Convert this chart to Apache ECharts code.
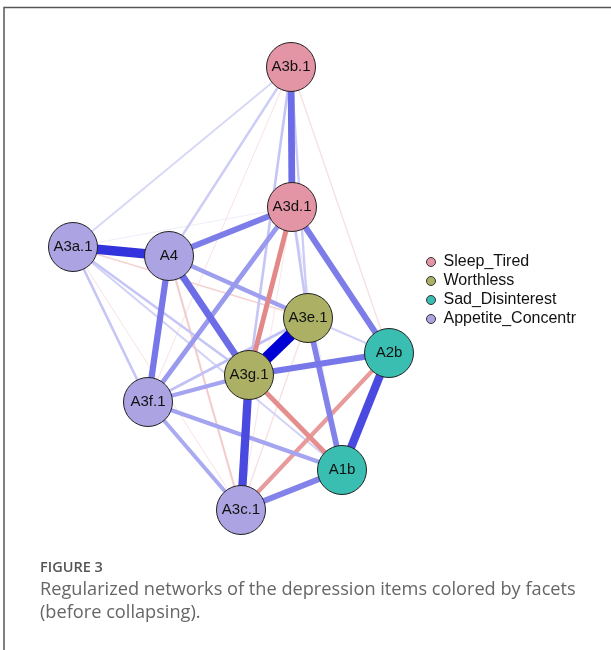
<!DOCTYPE html>
<html><head><meta charset="utf-8">
<script src="https://cdn.jsdelivr.net/npm/echarts@6/dist/echarts.min.js"></script>
<style>html,body{margin:0;padding:0;background:#fff}#c{width:611px;height:650px}</style>
</head><body><div id="c"></div>
<script>
// Facet groups
const groups = ['Sleep_Tired', 'Worthless', 'Sad_Disinterest', 'Appetite_Concentr'];
const groupColors = ['#E495A5', '#ABB065', '#39BEB1', '#ACA4E2'];

// Nodes (layout coordinates) and facet membership
const nodeNames = ['A3b.1', 'A3d.1', 'A3a.1', 'A4', 'A3e.1', 'A2b', 'A3g.1', 'A3f.1', 'A1b', 'A3c.1'];
const nodeX = [291, 292, 73, 169, 308, 389, 249, 148, 342, 241];
const nodeY = [67, 207, 247, 256, 318, 353, 375, 402, 470, 510];
const nodeGroup = [0, 0, 3, 3, 1, 2, 1, 3, 2, 3];

// Edges: source, target, partial correlation weight
const edgeFrom = ['A3e.1','A3a.1','A3g.1','A2b','A3b.1','A4','A4','A4','A3d.1','A3g.1','A3e.1','A3c.1',
  'A3d.1','A3g.1','A2b','A3d.1','A4','A3f.1','A3f.1','A3f.1','A3a.1','A3a.1','A3a.1','A3a.1',
  'A3b.1','A3b.1','A3b.1','A3d.1','A3e.1','A3e.1','A3a.1','A4','A3b.1','A3b.1','A3a.1','A3c.1','A3c.1','A3a.1','A3d.1'];
const edgeTo = ['A3g.1','A4','A3c.1','A1b','A3d.1','A3g.1','A3f.1','A3d.1','A2b','A2b','A1b','A1b',
  'A3g.1','A1b','A3c.1','A3f.1','A3e.1','A3g.1','A1b','A3c.1','A3f.1','A3g.1','A1b','A3b.1',
  'A4','A3g.1','A3e.1','A3e.1','A2b','A3f.1','A3e.1','A3c.1','A2b','A3f.1','A3c.1','A3e.1','A3d.1','A3d.1','A1b'];
const edgeWeight = [0.45, 0.36, 0.32, 0.32, 0.26, 0.26, 0.24, 0.23, 0.23, 0.24, 0.22, 0.22,
  -0.19, -0.18, -0.16, 0.18, 0.17, 0.16, 0.16, 0.15, 0.10, 0.10, 0.08, 0.07,
  0.09, 0.10, 0.09, 0.10, 0.08, 0.11, -0.07, -0.08, -0.05, -0.04, -0.04, -0.05, -0.04, 0.03, 0.04];

const maxW = 0.45;
function mix(base, a) {
  const r = Math.round(255 * (1 - a) + base[0] * a);
  const g = Math.round(255 * (1 - a) + base[1] * a);
  const b = Math.round(255 * (1 - a) + base[2] * a);
  return 'rgb(' + r + ',' + g + ',' + b + ')';
}
const links = edgeFrom.map((s, i) => ({ source: s, target: edgeTo[i], w: edgeWeight[i] }))
  .sort((a, b) => Math.abs(a.w) - Math.abs(b.w))
  .map(l => {
    const a = Math.min(1, Math.abs(l.w) / maxW);
    return {
      source: l.source, target: l.target, value: l.w,
      lineStyle: {
        width: Math.max(1, Math.abs(l.w) * 26),
        color: l.w > 0 ? mix([0, 0, 213], a) : mix([200, 20, 20], Math.min(1, a * 1.2)),
        opacity: 1, curveness: 0
      }
    };
  });

const nodes = nodeNames.map((n, i) => ({ name: n, value: [nodeX[i], nodeY[i]], category: nodeGroup[i] }));

const chart = echarts.init(document.getElementById('c'), null, { renderer: 'canvas' });
chart.setOption({
  animation: false,
  backgroundColor: '#fff',
  grid: { left: 0, right: 0, top: 0, bottom: 0 },
  xAxis: { type: 'value', min: 0, max: 611, show: false },
  yAxis: { type: 'value', min: 0, max: 650, inverse: true, show: false },
  legend: {
    orient: 'vertical', left: 421, top: 249,
    data: groups, icon: 'circle', itemWidth: 9, itemHeight: 9, itemGap: 3,
    itemStyle: { borderColor: '#333', borderWidth: 1 },
    textStyle: { fontFamily: 'Liberation Sans, Arial, sans-serif', fontSize: 16, color: '#111', padding: [0, 0, 0, 3] },
    selectedMode: false
  },
  graphic: [
    { type: 'polyline', shape: { points: [[611, 7.5], [4, 7.5], [4, 650]] }, style: { stroke: '#555', lineWidth: 1.5, fill: null }, silent: true },
    { type: 'text', left: 40, top: 560, style: { text: 'FIGURE 3', fontFamily: 'Open Sans, sans-serif', fontSize: 14.5, fontWeight: 600, fill: '#555' } },
    { type: 'text', left: 40, top: 578, style: { text: 'Regularized networks of the depression items colored by facets\n(before collapsing).', fontFamily: 'Open Sans, sans-serif', fontSize: 18.2, lineHeight: 23.5, fill: '#666' } }
  ],
  series: [{
    type: 'graph',
    coordinateSystem: 'cartesian2d',
    layout: 'none',
    symbol: 'circle',
    symbolSize: 49,
    categories: groups.map((g, i) => ({ name: g, itemStyle: { color: groupColors[i] } })),
    itemStyle: { borderColor: '#222', borderWidth: 1 },
    label: { show: true, position: 'inside', fontFamily: 'Liberation Sans, Arial, sans-serif', fontSize: 15, color: '#111' },
    data: nodes,
    links: links,
    emphasis: { disabled: true }
  }]
});
</script></body></html>
